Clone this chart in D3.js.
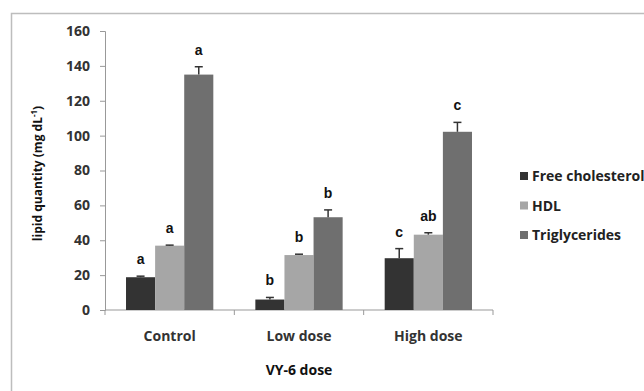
<!DOCTYPE html>
<html>
<head>
<meta charset="utf-8">
<script src="https://cdn.jsdelivr.net/npm/d3@7"></script>
<style>
  body { margin: 0; background: #fff; }
  svg { display: block; }
</style>
</head>
<body>
<div class="chart"></div>
<script>
// data
const doses = ['Control', 'Low dose', 'High dose'];
const series = ['Free cholesterol', 'HDL', 'Triglycerides'];
const colors = ['#333333', '#a6a6a6', '#6f6f6f'];
const freeChol = [18.8, 6, 29.7];
const hdl = [36.9, 31.5, 43.2];
const trig = [135, 53.2, 102.2];
const freeCholErr = [0.6, 1.2, 5.5];
const hdlErr = [0.3, 0.5, 1.1];
const trigErr = [4.5, 4.2, 5.4];
const freeCholLetters = ['a', 'b', 'c'];
const hdlLetters = ['a', 'b', 'ab'];
const trigLetters = ['a', 'b', 'c'];
const yTicks = [0, 20, 40, 60, 80, 100, 120, 140, 160];

const values = [freeChol, hdl, trig];
const errs = [freeCholErr, hdlErr, trigErr];
const letters = [freeCholLetters, hdlLetters, trigLetters];

const width = 644, height = 391;
const margin = {top: 31, left: 105, right: 151, bottom: 81};

const svg = d3.select('.chart').append('svg')
    .attr('width', width)
    .attr('height', height);

// outer chart border
svg.append('rect')
    .attr('x', 11.5).attr('y', 13.5)
    .attr('width', 660).attr('height', 400)
    .attr('fill', 'none')
    .attr('stroke', '#bdbdbd')
    .attr('stroke-width', 1.5);

const x0 = d3.scaleBand()
    .domain(doses)
    .range([margin.left, width - margin.right])
    .paddingInner(0.325)
    .paddingOuter(0.1625);

const bandFull = (width - margin.right - margin.left) / doses.length;

const x1 = d3.scaleBand()
    .domain(series)
    .range([0, x0.bandwidth()]);

const y = d3.scaleLinear()
    .domain([0, 160])
    .range([height - margin.bottom, margin.top]);

const bold = '"Open Sans", "Lato", sans-serif';

// y axis
const yAxis = svg.append('g')
    .attr('transform', `translate(${margin.left},0)`)
    .call(d3.axisLeft(y).tickValues(yTicks).tickSize(5).tickPadding(10));
yAxis.select('.domain').attr('stroke', '#999');
yAxis.selectAll('.tick line').attr('stroke', '#999');
yAxis.selectAll('.tick text')
    .attr('fill', '#333')
    .style('font', `bold 14px ${bold}`);

// x axis line with ticks between categories
const xg = svg.append('g');
xg.append('line')
    .attr('x1', margin.left).attr('x2', width - margin.right)
    .attr('y1', y(0)).attr('y2', y(0))
    .attr('stroke', '#999');
d3.range(doses.length + 1).forEach(i => {
    const xx = margin.left + i * bandFull;
    xg.append('line')
        .attr('x1', xx).attr('x2', xx)
        .attr('y1', y(0)).attr('y2', y(0) + 5)
        .attr('stroke', '#999');
});
xg.selectAll('text')
    .data(doses)
    .join('text')
    .attr('x', d => x0(d) + x0.bandwidth() / 2)
    .attr('y', y(0) + 31)
    .attr('text-anchor', 'middle')
    .attr('fill', '#333')
    .style('font', `bold 14px ${bold}`)
    .text(d => d);

// bars
const groups = svg.selectAll('g.dose')
    .data(doses)
    .join('g')
    .attr('class', 'dose')
    .attr('transform', d => `translate(${x0(d)},0)`);

series.forEach((s, si) => {
    const vals = values[si], ee = errs[si], ll = letters[si];
    groups.append('rect')
        .attr('x', x1(s))
        .attr('y', (d, i) => y(vals[i]))
        .attr('width', x1.bandwidth())
        .attr('height', (d, i) => y(0) - y(vals[i]))
        .attr('fill', colors[si]);
    const cx = x1(s) + x1.bandwidth() / 2;
    groups.append('line')
        .attr('x1', cx).attr('x2', cx)
        .attr('y1', (d, i) => y(vals[i]))
        .attr('y2', (d, i) => y(vals[i] + ee[i]))
        .attr('stroke', '#333').attr('stroke-width', 1.5);
    groups.append('line')
        .attr('x1', cx - 4).attr('x2', cx + 4)
        .attr('y1', (d, i) => y(vals[i] + ee[i]))
        .attr('y2', (d, i) => y(vals[i] + ee[i]))
        .attr('stroke', '#333').attr('stroke-width', 1.5);
    groups.append('text')
        .attr('x', cx)
        .attr('y', (d, i) => y(vals[i] + ee[i]) - 12)
        .attr('text-anchor', 'middle')
        .attr('fill', '#111')
        .style('font', 'bold 14px "Liberation Sans", Arial, sans-serif')
        .text((d, i) => ll[i]);
});

// axis titles
svg.append('text')
    .attr('transform', `translate(42,${(y(0) + y(160)) / 2 + 3}) rotate(-90)`)
    .attr('text-anchor', 'middle')
    .attr('fill', '#111')
    .style('font', `bold 12px ${bold}`)
    .html('lipid quantity (mg dL<tspan dy="-5" font-size="8">-1</tspan><tspan dy="5">)</tspan>');

svg.append('text')
    .attr('x', 299)
    .attr('y', 375)
    .attr('text-anchor', 'middle')
    .attr('fill', '#111')
    .style('font', `bold 14px ${bold}`)
    .text('VY-6 dose');

// legend
const legend = svg.append('g')
    .attr('transform', 'translate(520,176)');
series.forEach((s, i) => {
    legend.append('rect')
        .attr('x', 0).attr('y', i * 29.5 - 4)
        .attr('width', 8).attr('height', 8)
        .attr('fill', colors[i]);
    legend.append('text')
        .attr('x', 12).attr('y', i * 29.5 + 5)
        .attr('fill', '#222')
        .style('font', `bold 14px ${bold}`)
        .text(s);
});
</script>
</body>
</html>
